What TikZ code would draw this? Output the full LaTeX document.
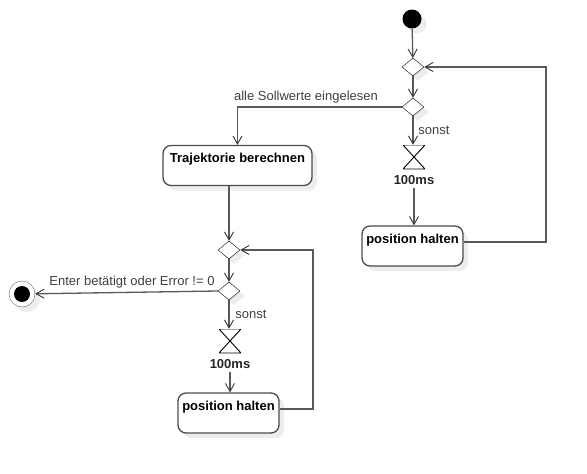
\documentclass[tikz,border=0pt]{standalone}
\usepackage{fontspec}
\setmainfont{Liberation Sans}
\usetikzlibrary{shapes.geometric, arrows.meta, positioning, shadows}

\begin{document}
\begin{tikzpicture}[x=1pt, y=-1pt, font=\fontsize{13}{15}\selectfont,
        shade/.style={drop shadow={shadow xshift=5pt, shadow yshift=-5pt, fill=black!7, opacity=1}},
        action/.style={rectangle, draw=black!70, line width=1.3pt, rounded corners=8pt, fill=white, shade,
            font=\fontsize{13}{15}\selectfont\bfseries, text height=13pt, text depth=19pt, inner sep=4pt},
        decision/.style={diamond, draw, thin, fill=white, shade, minimum width=22pt, minimum height=18pt, inner sep=0pt},
        wait/.style={rectangle, minimum width=22pt, minimum height=24pt, inner sep=0pt,
            path picture={\draw[line width=0.9pt] (path picture bounding box.north west) -- (path picture bounding box.north east)
                -- (path picture bounding box.south west) -- (path picture bounding box.south east) -- cycle;}},
        waitlabel/.style={font=\fontsize{13}{15}\selectfont\bfseries, text=black!85},
        guard/.style={text=black!75, inner sep=1pt},
        start/.style={circle, fill=black, minimum size=19pt, inner sep=0pt, shade},
        stop/.style={circle, draw=black!60, fill=white, minimum size=26pt, inner sep=0pt, shade,
            path picture={\fill[black] (path picture bounding box.center) circle (8pt);}},
        line/.style={draw=black!65, line width=1.3pt, -{Straight Barb[length=8pt, width=9pt, line width=0.9pt, black!80]}},
        plain/.style={draw=black!65, line width=1.3pt}
    ]
        \useasboundingbox (0,0) rectangle (587,474);
        % Reading the set values
        \node[start] (init) at (412,19) {};
        \node[decision] (merge1) at (413,67) {};
        \node[decision] (check1) at (413,107) {};
        \node[wait] (wait1) at (414,157) {};
        \node[waitlabel, below=3pt of wait1] (ms1) {100ms};
        \node[action, minimum width=101pt] (hold1) at (412.5,246) {position halten};
        % Trajectory
        \node[action, minimum width=149pt] (traj) at (237.5,165.5) {Trajektorie berechnen};
        % Moving along the trajectory
        \node[decision] (merge2) at (229,250) {};
        \node[decision] (check2) at (229,291) {};
        \node[wait] (wait2) at (230,341) {};
        \node[waitlabel, below=3pt of wait2] (ms2) {100ms};
        \node[action, minimum width=101pt] (hold2) at (228.5,413) {position halten};
        \node[stop] (final) at (22,294) {};
        % Guards
        \node[guard] (allread) at (306,97) {alle Sollwerte eingelesen};
        \node[guard] (else1) at (434,130) {sonst};
        \node[guard] (enter) at (132,282) {Enter betätigt oder Error != 0};
        \node[guard] (else2) at (251,314) {sonst};
        % Connections
        \path[line] (init) -- (merge1);
        \path[line] (merge1) -- (check1);
        \path[line] (check1) -- (wait1.north -| check1);
        \path[line] (ms1) -- (hold1.north -| ms1);
        \path[line] ([yshift=4pt]hold1.east) -| (546,67) -- (merge1.east);
        \path[line] (check1.west) -| (traj.north);
        \path[line] (traj.south -| merge2) -- (merge2);
        \path[line] (merge2) -- (check2);
        \path[line] (check2) -- (wait2.north -| check2);
        \path[line] (ms2) -- (hold2.north -| ms2);
        \path[line] ([yshift=4pt]hold2.east) -| (313,250) -- (merge2.east);
        \path[line] (check2.west) -- (final);

    \end{tikzpicture}
\end{document}
